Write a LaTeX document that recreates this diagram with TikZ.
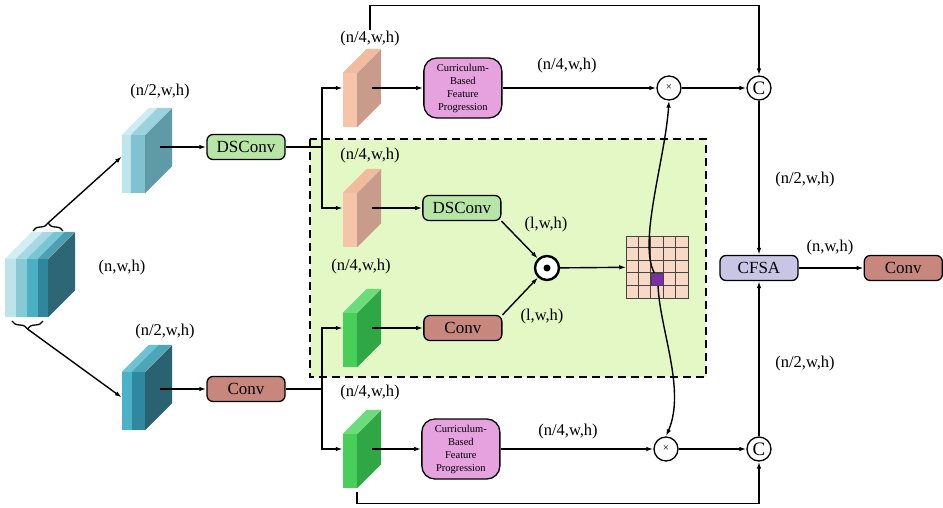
\documentclass[tikz,border=0pt]{standalone}
\usepackage{fontspec}
\setmainfont{Liberation Serif}
\usetikzlibrary{positioning,decorations.pathreplacing,arrows.meta}

\definecolor{stA}{HTML}{BFE3EB}
\definecolor{stB}{HTML}{88C9D6}
\definecolor{stC}{HTML}{4CB0C5}
\definecolor{stD}{HTML}{2F879D}
\definecolor{stAt}{HTML}{D3EEF3}
\definecolor{stBt}{HTML}{A8D9E3}
\definecolor{stCt}{HTML}{79C6D4}
\definecolor{stDt}{HTML}{4E9FB1}
\definecolor{stS}{HTML}{2D6675}
\definecolor{upA}{HTML}{C0E4EB}
\definecolor{upB}{HTML}{7FC3D0}
\definecolor{upAt}{HTML}{CFECF2}
\definecolor{upBt}{HTML}{9AD2DD}
\definecolor{upS}{HTML}{5F9BA7}
\definecolor{loA}{HTML}{4BB3C8}
\definecolor{loB}{HTML}{2E889F}
\definecolor{loAt}{HTML}{6CC4D3}
\definecolor{loBt}{HTML}{4CA5B8}
\definecolor{loS}{HTML}{2B6271}
\definecolor{orF}{HTML}{F6C4A9}
\definecolor{orT}{HTML}{F2BB9E}
\definecolor{orS}{HTML}{C99B8A}
\definecolor{grF}{HTML}{47CF5A}
\definecolor{grT}{HTML}{6BDC7A}
\definecolor{grS}{HTML}{2FA744}
\definecolor{dsgreen}{HTML}{B6E5A6}
\definecolor{convred}{HTML}{C8877C}
\definecolor{cfsagray}{HTML}{C9C5E5}
\definecolor{cbviolet}{HTML}{E6A1DF}
\definecolor{regiongreen}{HTML}{E3F8C5}
\definecolor{cellpeach}{HTML}{F8D9C6}
\definecolor{gridgray}{HTML}{444444}
\definecolor{hotpurple}{HTML}{7A2FA8}

% front stripe and top stripe of a slab
\newcommand{\stripe}[6]{%
  \fill[#5] ([xshift=#2]#1.south west) rectangle ([xshift={#2+#3}, yshift=-#4]#1.north west);
  \fill[#6] ([xshift=#2, yshift=-#4]#1.north west) -- ([xshift={#2+#3}, yshift=-#4]#1.north west)
    -- ([xshift={#2+#3+#4}]#1.north west) -- ([xshift={#2+#4}]#1.north west) -- cycle;}
% right side of a slab
\newcommand{\slabside}[3]{%
  \fill[#3] ([xshift=-#2, yshift=-#2]#1.north east) -- (#1.north east)
    -- ([yshift=#2]#1.south east) -- ([xshift=-#2]#1.south east) -- cycle;}

\tikzset{
 box/.style
  = {rectangle, draw, line width=1.3pt, rounded corners=6pt, minimum width=78pt,
     minimum height=25pt, inner sep=2pt, font=\fontsize{17}{20}\selectfont},
 dsbox/.style = {box, fill=dsgreen},
 cvbox/.style = {box, fill=convred},
 cfbox/.style = {box, fill=cfsagray},
 cbfp/.style
  = {rectangle, draw, line width=1.3pt, rounded corners=13pt, fill=cbviolet, minimum width=78pt,
     minimum height=60pt, align=center, inner sep=1pt, font=\fontsize{10.5}{13}\selectfont},
 dim/.style = {inner sep=1pt, font=\fontsize{16.5}{19}\selectfont},
 op/.style
  = {circle, draw, line width=1.3pt, fill=white, minimum size=24pt, inner sep=0pt},
 dotop/.style = {op, line width=2.4pt},
 slabbox/.style = {inner sep=0pt, minimum width=38pt, minimum height=78pt},
 gridbox/.style
  = {rectangle, draw=gridgray, line width=1pt, fill=cellpeach, minimum width=61.5pt,
     minimum height=62pt, inner sep=0pt},
 hot/.style
  = {rectangle, draw=gridgray, line width=1pt, fill=hotpurple, minimum width=12.3pt,
     minimum height=12.4pt, inner sep=0pt},
 region/.style = {draw, dash pattern=on 8pt off 5pt, line width=1.8pt, fill=regiongreen},
 brace/.style = {decorate, decoration={brace, amplitude=8pt}, line width=1.3pt},
 arrow/.style = {draw, -{Latex[length=7pt, width=4.5pt]}, line width=1.4pt},
 link/.style = {draw, line width=1.4pt},
}

\begin{document}
\begin{tikzpicture}[x=1pt, y=-1pt, auto]
    \useasboundingbox (0,0) rectangle (943,508);
    \draw[region] (310,139) rectangle (706,377);

    % input and its two halves
    \node[slabbox, minimum width=70pt, minimum height=85pt] (inp) at (40,274.5) {};
    \stripe{inp}{0}{11}{27}{stA}{stAt}
    \stripe{inp}{11}{11}{27}{stB}{stBt}
    \stripe{inp}{22}{11}{27}{stC}{stCt}
    \stripe{inp}{33}{10}{27}{stD}{stDt}
    \slabside{inp}{27}{stS}
    \node[slabbox, minimum width=50pt, minimum height=85pt] (hb1) at (147,150.5) {};
    \stripe{hb1}{0}{9}{27}{upA}{upAt}
    \stripe{hb1}{9}{14}{27}{upB}{upBt}
    \slabside{hb1}{27}{upS}
    \node[slabbox, minimum width=50pt, minimum height=85pt] (hb2) at (147,387.5) {};
    \stripe{hb2}{0}{10}{27}{loA}{loAt}
    \stripe{hb2}{10}{13}{27}{loB}{loBt}
    \slabside{hb2}{27}{loS}
    \node[dim] at (122,268) {(n,w,h)};
    \node[dim] at (160,92) {(n/2,w,h)};
    \node[dim] at (165,332) {(n/2,w,h)};
    \draw[brace] (33,231) -- (63,231);
    \draw[brace] (43,321) -- (12,321);
    \coordinate (bru) at (48,223);
    \coordinate (brd) at (27.5,329);

    \node[dsbox] (dsc1) at (246,147) {DSConv};
    \node[cvbox] (cv1) at (246,389) {Conv};
    \coordinate (j1) at (322,147);
    \coordinate (j2) at (322,389);

    % quarter tensors
    \node[slabbox] (q1) at (362,88) {};
    \stripe{q1}{0}{14}{24}{orF}{orT}
    \slabside{q1}{24}{orS}
    \node[slabbox] (q2) at (362,208) {};
    \stripe{q2}{0}{14}{24}{orF}{orT}
    \slabside{q2}{24}{orS}
    \node[slabbox] (q3) at (362,328) {};
    \stripe{q3}{0}{14}{24}{grF}{grT}
    \slabside{q3}{24}{grS}
    \node[slabbox] (q4) at (362,449) {};
    \stripe{q4}{0}{14}{24}{grF}{grT}
    \slabside{q4}{24}{grS}
    \node[dim] (lq1) at (370,39) {(n/4,w,h)};
    \node[dim] at (370,156) {(n/4,w,h)};
    \node[dim] at (361,267) {(n/4,w,h)};
    \node[dim] at (370,393) {(n/4,w,h)};

    \node[cbfp, right=42pt of q1] (cb1) {Curriculum-\\Based\\Feature\\Progression};
    \node[dsbox, right=41pt of q2] (dsc2) {DSConv};
    \node[cvbox, right=42pt of q3] (cv2) {Conv};
    \node[cbfp, right=40pt of q4] (cb2) {Curriculum-\\Based\\Feature\\Progression};

    \node[dotop] (dot) at (547,268) {};
    \fill (dot.center) circle (3.5);
    \node[gridbox] (grid) at (657.5,267) {};
    \foreach \i in {1,...,4} {
      \draw[gridgray, line width=1pt] ([xshift=\i*12.3pt]grid.north west) -- ([xshift=\i*12.3pt]grid.south west);
      \draw[gridgray, line width=1pt] ([yshift=-\i*12.4pt]grid.north west) -- ([yshift=-\i*12.4pt]grid.north east);
    }
    \node[hot] (pc) at (657.75,279.4) {};

    \node[op, font=\fontsize{11}{11}\selectfont] (mul1) at (669,88) {×};
    \node[op, font=\fontsize{11}{11}\selectfont] (mul2) at (666,449) {×};
    \node[op, font=\fontsize{19}{19}\selectfont] (c1) at (759,88) {C};
    \node[op, font=\fontsize{19}{19}\selectfont] (c2) at (759,449) {C};
    \node[cfbox] (cfsa) at (759,268) {CFSA};
    \node[cvbox, right=65pt of cfsa] (cv3) {Conv};

    \node[dim] at (567,66) {(n/4,w,h)};
    \node[dim] at (568,432) {(n/4,w,h)};
    \node[dim] at (546,225) {(l,w,h)};
    \node[dim] at (542,317) {(l,w,h)};
    \node[dim] at (805,180) {(n/2,w,h)};
    \node[dim] at (805,364) {(n/2,w,h)};
    \node[dim] at (830,248) {(n,w,h)};

    \path [arrow] (bru) -- ([yshift=-6pt]hb1.west);
    \path [arrow] (brd) -- ([yshift=-10pt]hb2.west);
    \path [arrow] ([xshift=13pt]hb1.center |- dsc1.west) -- (dsc1.west);
    \path [arrow] ([xshift=13pt]hb2.center |- cv1.west) -- (cv1.west);
    \path [link] (dsc1.east) -- (j1);
    \path [arrow] (j1) |- (q1.west);
    \path [arrow] (j1) |- (q2.west);
    \path [link] (cv1.east) -- (j2);
    \path [arrow] (j2) |- (q3.west);
    \path [arrow] (j2) |- (q4.west);
    \path [arrow] ([xshift=10pt]q1.center) -- (cb1);
    \path [arrow] ([xshift=10pt]q2.center) -- (dsc2);
    \path [arrow] ([xshift=10pt]q3.center) -- (cv2);
    \path [arrow] ([xshift=10pt]q4.center) -- (cb2);
    \path [arrow] (dsc2.south east) -- (dot);
    \path [arrow] (cv2.north east) -- (dot);
    \path [arrow] (dot) -- (grid);
    \path [arrow] (pc) .. controls (638,242) and (665,160) .. (mul1.south);
    \path [arrow] (pc) .. controls (660,330) and (686,390) .. (mul2.north);
    \path [arrow] (cb1) -- (mul1);
    \path [arrow] (cb2) -- (mul2);
    \path [arrow] (mul1) -- (c1);
    \path [arrow] (mul2) -- (c2);
    \path [arrow] (lq1.north) -- ++(0,-25) -| (c1.north);
    \path [arrow] ([xshift=-5pt, yshift=-4pt]q4.south) -- ++(0,11) -| (c2.south);
    \path [arrow] (c1) -- (cfsa);
    \path [arrow] (c2) -- (cfsa);
    \path [arrow] (cfsa) -- (cv3);
\end{tikzpicture}
\end{document}
